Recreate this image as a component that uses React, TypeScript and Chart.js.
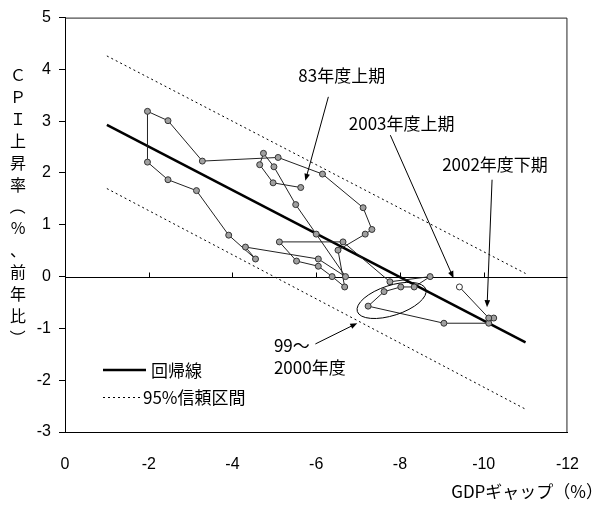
import React, { useEffect, useRef } from 'react';
import { Chart, registerables } from 'chart.js';
Chart.register(...registerables);

// GDP gap (%) and CPI inflation (% y/y), half-yearly, FY1983 H1 -> FY2003 H1
const gdpGap = [-5.63, -4.97, -4.65, -4.74, -4.99, -5.51, -6.0, -6.70, -6.05, -4.31, -4.55, -3.91, -3.14, -2.46, -1.97, -1.97, -2.46, -3.28, -5.09, -6.15, -7.12, -7.33, -7.17, -6.52, -6.68, -6.38, -6.05, -5.53, -5.12, -6.64, -7.76, -8.72, -8.34, -8.02, -7.62, -7.24, -9.05, -10.12, -10.24, -10.12, -9.42];
const cpi = [1.72, 1.81, 2.16, 2.38, 2.12, 1.39, 0.82, 0.0, 0.34, 0.57, 0.34, 0.80, 1.66, 1.87, 2.21, 3.19, 3.01, 2.23, 2.30, 1.98, 1.33, 0.91, 0.82, 0.51, -0.20, 0.0, 0.20, 0.30, 0.67, 0.67, -0.10, 0.0, -0.20, -0.20, -0.29, -0.57, -0.90, -0.90, -0.80, -0.80, -0.20];

// Regression line and 95% confidence band (end points)
const lineX = [-1, -11];
const regressionY = [2.93, -1.27];
const upperY = [4.26, 0.06];
const lowerY = [1.70, -2.56];

const xTickValues = [-2, -4, -6, -8, -10];

const yTitle = ['Ｃ', 'Ｐ', 'Ｉ', '上', '昇', '率', '（', '%', '、', '前', '年', '比', '）'];
const xTitle = 'GDPギャップ（%）';
const legendLabels = ['回帰線', '95%信頼区間'];

// annotations in data coordinates
const notes = [
  { text: '83年度上期', x: -6.61, y: 3.88, from: [-6.29, 3.47], to: [-5.74, 1.85] },
  { text: '2003年度上期', x: -8.04, y: 2.96, from: [-7.77, 2.73], to: [-9.28, -0.03] },
  { text: '2002年度下期', x: -10.27, y: 2.16, from: [-10.2, 1.87], to: [-10.08, -0.59] },
];
const note99 = { lines: ['99～', '2000年度'], x: -4.99, y: -1.34, from: [-5.98, -1.30], to: [-6.98, -0.90] };
const ellipseCenter = [-7.80, -0.46];

const FONT = "'Noto Sans CJK JP', 'Noto Sans', sans-serif";
const TICK_FONT = "'Liberation Sans', Arial, sans-serif";

function arrow(ctx: CanvasRenderingContext2D, x1: number, y1: number, x2: number, y2: number) {
  const ang = Math.atan2(y2 - y1, x2 - x1);
  const len = 7, hw = 2.8;
  ctx.beginPath();
  ctx.moveTo(x1, y1);
  ctx.lineTo(x2 - Math.cos(ang) * len * 0.8, y2 - Math.sin(ang) * len * 0.8);
  ctx.stroke();
  ctx.beginPath();
  ctx.moveTo(x2, y2);
  ctx.lineTo(x2 - Math.cos(ang) * len - Math.sin(ang) * hw, y2 - Math.sin(ang) * len + Math.cos(ang) * hw);
  ctx.lineTo(x2 - Math.cos(ang) * len + Math.sin(ang) * hw, y2 - Math.sin(ang) * len - Math.cos(ang) * hw);
  ctx.closePath();
  ctx.fill();
}

const decor = {
  id: 'decor',
  beforeDatasetsDraw(chart: any) {
    const { ctx, chartArea: a, scales } = chart;
    const xs = scales.x, ys = scales.y;
    ctx.save();
    ctx.strokeStyle = '#222';
    ctx.lineWidth = 1;
    ctx.beginPath();
    ctx.moveTo(a.left, a.top + 0.5);
    ctx.lineTo(a.right - 0.5, a.top + 0.5);
    ctx.lineTo(a.right - 0.5, a.bottom);
    ctx.stroke();
    const y0 = Math.round(ys.getPixelForValue(0)) + 0.5;
    ctx.strokeStyle = '#000';
    ctx.beginPath();
    ctx.moveTo(a.left, y0);
    ctx.lineTo(a.right, y0);
    xTickValues.forEach((v) => {
      const px = Math.round(xs.getPixelForValue(v)) + 0.5;
      ctx.moveTo(px, y0);
      ctx.lineTo(px, y0 - 5);
    });
    ctx.stroke();
    ctx.restore();
  },
  afterDatasetsDraw(chart: any) {
    const { ctx, scales } = chart;
    const xs = scales.x, ys = scales.y;
    const P = (x: number, y: number) => [xs.getPixelForValue(x), ys.getPixelForValue(y)];
    ctx.save();
    ctx.fillStyle = '#000';
    ctx.strokeStyle = '#000';
    ctx.lineWidth = 1;
    ctx.font = `17px ${FONT}`;
    ctx.textBaseline = 'middle';
    ctx.textAlign = 'center';
    notes.forEach((n) => {
      const [tx, ty] = P(n.x, n.y);
      ctx.fillText(n.text, tx, ty);
      const [fx, fy] = P(n.from[0], n.from[1]);
      const [gx, gy] = P(n.to[0], n.to[1]);
      arrow(ctx, fx, fy, gx, gy);
    });
    ctx.textAlign = 'left';
    const [nx, ny] = P(note99.x, note99.y);
    ctx.fillText(note99.lines[0], nx, ny);
    ctx.fillText(note99.lines[1], nx, ny + 22);
    {
      const [fx, fy] = P(note99.from[0], note99.from[1]);
      const [gx, gy] = P(note99.to[0], note99.to[1]);
      arrow(ctx, fx, fy, gx, gy);
    }
    const [ex, ey] = P(ellipseCenter[0], ellipseCenter[1]);
    ctx.beginPath();
    ctx.ellipse(ex, ey, 36, 15, -18 * Math.PI / 180, 0, Math.PI * 2);
    ctx.stroke();

    // legend
    ctx.lineWidth = 2.5;
    ctx.beginPath();
    ctx.moveTo(103, 370);
    ctx.lineTo(146, 370);
    ctx.stroke();
    ctx.lineWidth = 1;
    ctx.setLineDash([2, 3]);
    ctx.beginPath();
    ctx.moveTo(103, 397.5);
    ctx.lineTo(140, 397.5);
    ctx.stroke();
    ctx.setLineDash([]);
    ctx.fillText(legendLabels[0], 151, 371);
    ctx.fillText(legendLabels[1], 143, 398);

    // axis titles
    ctx.font = `16px ${FONT}`;
    ctx.textAlign = 'center';
    yTitle.forEach((ch, i) => {
      const cy = 75 + i * 21.9;
      if (ch === '（' || ch === '）') {
        ctx.save();
        ctx.translate(18, cy);
        ctx.rotate(Math.PI / 2);
        ctx.fillText(ch, 0, 0);
        ctx.restore();
      } else {
        ctx.fillText(ch, 18, cy);
      }
    });
    ctx.font = `17px ${FONT}`;
    ctx.textAlign = 'right';
    ctx.fillText(xTitle, 603, 492);
    ctx.restore();
  },
};

export default function App() {
  const ref = useRef<HTMLCanvasElement | null>(null);
  useEffect(() => {
    if (!ref.current) return;
    const pts = gdpGap.map((x, i) => ({ x, y: cpi[i] }));
    const seg = (ys: number[]) => lineX.map((x, i) => ({ x, y: ys[i] }));
    const chart = new Chart(ref.current, {
      type: 'scatter',
      data: {
        datasets: [
          {
            data: pts,
            showLine: true,
            borderColor: '#222',
            borderWidth: 1,
            pointRadius: 3,
            pointBackgroundColor: pts.map((_, i) => (i === pts.length - 1 ? '#ffffff' : '#a0a0a0')),
            pointBorderColor: '#333',
            pointBorderWidth: 1,
          },
          { data: seg(regressionY), showLine: true, borderColor: '#000', borderWidth: 2.5, pointRadius: 0 },
          { data: seg(upperY), showLine: true, borderColor: '#000', borderWidth: 1, borderDash: [2, 3], pointRadius: 0 },
          { data: seg(lowerY), showLine: true, borderColor: '#000', borderWidth: 1, borderDash: [2, 3], pointRadius: 0 },
        ],
      },
      options: {
        animation: false,
        responsive: false,
        maintainAspectRatio: false,
        events: [],
        layout: { padding: { top: 13, right: 25, left: 0, bottom: 0 } },
        plugins: { legend: { display: false }, tooltip: { enabled: false } },
        scales: {
          x: {
            type: 'linear',
            min: -12,
            max: 0,
            reverse: true,
            ticks: { stepSize: 2, color: '#000', padding: 23, font: { family: TICK_FONT, size: 16 } },
            grid: { display: false, drawTicks: false },
            border: { display: true, color: '#000' },
            afterFit: (s: any) => { s.height = 73; },
          },
          y: {
            min: -3,
            max: 5,
            ticks: { stepSize: 1, color: '#000', padding: 8, font: { family: TICK_FONT, size: 16 } },
            grid: { display: true, drawOnChartArea: false, drawTicks: true, tickLength: 6, color: '#000' },
            border: { display: true, color: '#000' },
            afterFit: (s: any) => { s.width = 65; },
          },
        },
      },
      plugins: [decor],
    });
    return () => chart.destroy();
  }, []);
  return (
    <div style={{ position: 'fixed', left: 0, top: 0, width: 602, height: 505, background: '#fff' }}>
      <canvas ref={ref} width={602} height={505} style={{ display: 'block' }} />
    </div>
  );
}
